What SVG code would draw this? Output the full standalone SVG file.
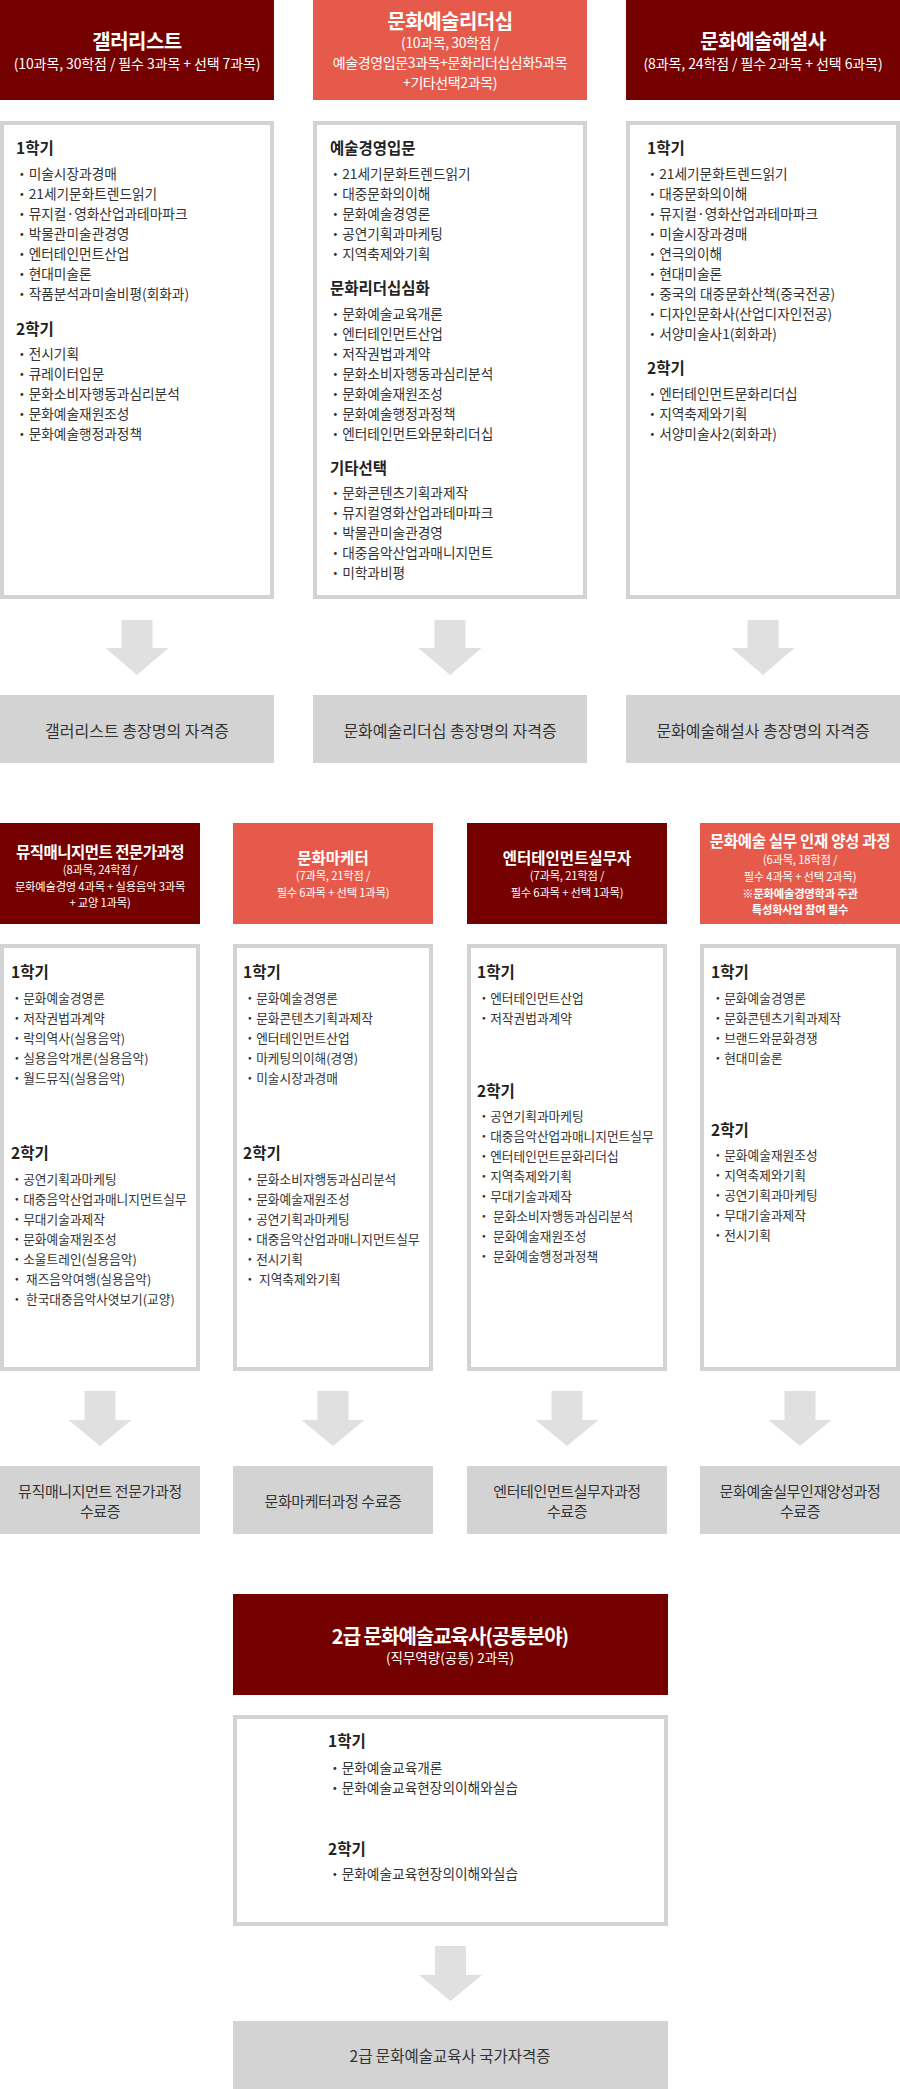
<svg xmlns="http://www.w3.org/2000/svg" width="900" height="2089" viewBox="0 0 900 2089">
<style>
text{font-family:"Noto Sans CJK KR","Noto Sans",sans-serif;dominant-baseline:central}
.dark{fill:#750000}
.coral{fill:#E65A4B}
.box{fill:#fff;stroke:#d3d3d3;stroke-width:4}
.cert{fill:#d3d3d3}
.arrow{fill:#e0e0e0}
.t1{font-size:20px;font-weight:bold;fill:#fff;text-anchor:middle;letter-spacing:-0.5px}
.s1{font-size:14px;fill:#fff;text-anchor:middle;letter-spacing:-0.1px}
.s1n{font-size:14px;fill:#fff;text-anchor:middle;letter-spacing:-0.4px}
.t2{font-size:15.5px;font-weight:bold;fill:#fff;text-anchor:middle;letter-spacing:0}
.s2{font-size:11.3px;fill:#fff;text-anchor:middle;letter-spacing:-0.2px}
.s2b{font-size:11.3px;font-weight:bold;fill:#fff;text-anchor:middle;letter-spacing:-0.2px}
.h{font-size:15.5px;font-weight:bold;fill:#222}
.i{font-size:13.7px;fill:#333}
.i2{font-size:12.7px;fill:#333}
.c1{font-size:16px;fill:#333;text-anchor:middle}
.c2{font-size:15px;fill:#333;text-anchor:middle;letter-spacing:-0.4px}
</style>

<!-- Row 1 -->
<g id="gallerist-header">
<rect class="dark" x="0" y="0" width="274" height="100"/>
<text class="t1" x="137" y="40">갤러리스트</text>
<text class="s1" x="137" y="63">(10과목, 30학점 / 필수 3과목 + 선택 7과목)</text>
</g>
<g id="leadership-header">
<rect class="coral" x="313" y="0" width="274" height="100"/>
<text class="t1" x="450" y="20">문화예술리더십</text>
<text class="s1n" x="450" y="42">(10과목, 30학점 /</text>
<text class="s1n" x="450" y="62">예술경영입문3과목+문화리더십심화5과목</text>
<text class="s1n" x="450" y="82">+기타선택2과목)</text>
</g>
<g id="docent-header">
<rect class="dark" x="626" y="0" width="274" height="100"/>
<text class="t1" x="763" y="40">문화예술해설사</text>
<text class="s1" x="763" y="63">(8과목, 24학점 / 필수 2과목 + 선택 6과목)</text>
</g>

<g id="gallerist-courses">
<rect class="box" x="2" y="123" width="270" height="474"/>
<text class="h" x="16" y="147">1학기</text>
<text class="i" x="15" y="173">・미술시장과경매</text>
<text class="i" x="15" y="193">・21세기문화트렌드읽기</text>
<text class="i" x="15" y="213">・뮤지컬·영화산업과테마파크</text>
<text class="i" x="15" y="233">・박물관미술관경영</text>
<text class="i" x="15" y="253">・엔터테인먼트산업</text>
<text class="i" x="15" y="273">・현대미술론</text>
<text class="i" x="15" y="293">・작품분석과미술비평(회화과)</text>
<text class="h" x="16" y="328">2학기</text>
<text class="i" x="15" y="353">・전시기획</text>
<text class="i" x="15" y="373">・큐레이터입문</text>
<text class="i" x="15" y="393">・문화소비자행동과심리분석</text>
<text class="i" x="15" y="413">・문화예술재원조성</text>
<text class="i" x="15" y="433">・문화예술행정과정책</text>
</g>
<g id="leadership-courses">
<rect class="box" x="315" y="123" width="270" height="474"/>
<text class="h" x="330" y="147">예술경영입문</text>
<text class="i" x="328.5" y="173">・21세기문화트렌드읽기</text>
<text class="i" x="328.5" y="193">・대중문화의이해</text>
<text class="i" x="328.5" y="213">・문화예술경영론</text>
<text class="i" x="328.5" y="233">・공연기획과마케팅</text>
<text class="i" x="328.5" y="253">・지역축제와기획</text>
<text class="h" x="330" y="287">문화리더십심화</text>
<text class="i" x="328.5" y="313">・문화예술교육개론</text>
<text class="i" x="328.5" y="333">・엔터테인먼트산업</text>
<text class="i" x="328.5" y="353">・저작권법과계약</text>
<text class="i" x="328.5" y="373">・문화소비자행동과심리분석</text>
<text class="i" x="328.5" y="393">・문화예술재원조성</text>
<text class="i" x="328.5" y="413">・문화예술행정과정책</text>
<text class="i" x="328.5" y="433">・엔터테인먼트와문화리더십</text>
<text class="h" x="330" y="467">기타선택</text>
<text class="i" x="328.5" y="492">・문화콘텐츠기획과제작</text>
<text class="i" x="328.5" y="512">・뮤지컬영화산업과테마파크</text>
<text class="i" x="328.5" y="532">・박물관미술관경영</text>
<text class="i" x="328.5" y="552">・대중음악산업과매니지먼트</text>
<text class="i" x="328.5" y="572">・미학과비평</text>
</g>
<g id="docent-courses">
<rect class="box" x="628" y="123" width="270" height="474"/>
<text class="h" x="647" y="147">1학기</text>
<text class="i" x="645.5" y="173">・21세기문화트렌드읽기</text>
<text class="i" x="645.5" y="193">・대중문화의이해</text>
<text class="i" x="645.5" y="213">・뮤지컬·영화산업과테마파크</text>
<text class="i" x="645.5" y="233">・미술시장과경매</text>
<text class="i" x="645.5" y="253">・연극의이해</text>
<text class="i" x="645.5" y="273">・현대미술론</text>
<text class="i" x="645.5" y="293">・중국의 대중문화산책(중국전공)</text>
<text class="i" x="645.5" y="313">・디자인문화사(산업디자인전공)</text>
<text class="i" x="645.5" y="333">・서양미술사1(회화과)</text>
<text class="h" x="647" y="367">2학기</text>
<text class="i" x="645.5" y="393">・엔터테인먼트문화리더십</text>
<text class="i" x="645.5" y="413">・지역축제와기획</text>
<text class="i" x="645.5" y="433">・서양미술사2(회화과)</text>
</g>

<g id="gallerist-cert">
<rect class="cert" x="0" y="695" width="274" height="68"/>
<text class="c1" x="137" y="730">갤러리스트 총장명의 자격증</text>
</g>
<g id="leadership-cert">
<rect class="cert" x="313" y="695" width="274" height="68"/>
<text class="c1" x="450" y="730">문화예술리더십 총장명의 자격증</text>
</g>
<g id="docent-cert">
<rect class="cert" x="626" y="695" width="274" height="68"/>
<text class="c1" x="763" y="730">문화예술해설사 총장명의 자격증</text>
</g>

<!-- Row 2 -->
<g id="music-header">
<rect class="dark" x="0" y="823" width="200" height="101"/>
<text class="t2" x="100" y="851" style="letter-spacing:-0.5px">뮤직매니지먼트 전문가과정</text>
<text class="s2" x="100" y="869">(8과목, 24학점 /</text>
<text class="s2" x="100" y="886">문화예술경영 4과목 + 실용음악 3과목</text>
<text class="s2" x="100" y="902">+ 교양 1과목)</text>
</g>
<g id="marketer-header">
<rect class="coral" x="233" y="823" width="200" height="101"/>
<text class="t2" x="333" y="857">문화마케터</text>
<text class="s2" x="333" y="875">(7과목, 21학점 /</text>
<text class="s2" x="333" y="892">필수 6과목 + 선택 1과목)</text>
</g>
<g id="entertainment-header">
<rect class="dark" x="467" y="823" width="200" height="101"/>
<text class="t2" x="567" y="857">엔터테인먼트실무자</text>
<text class="s2" x="567" y="875">(7과목, 21학점 /</text>
<text class="s2" x="567" y="892">필수 6과목 + 선택 1과목)</text>
</g>
<g id="practice-header">
<rect class="coral" x="700" y="823" width="200" height="101"/>
<text class="t2" x="800" y="840" style="letter-spacing:-0.3px">문화예술 실무 인재 양성 과정</text>
<text class="s2" x="800" y="859">(6과목, 18학점 /</text>
<text class="s2" x="800" y="876">필수 4과목 + 선택 2과목)</text>
<text class="s2b" x="800" y="893">※문화예술경영학과 주관</text>
<text class="s2b" x="800" y="909">특성화사업 참여 필수</text>
</g>

<g id="music-courses">
<rect class="box" x="2" y="946" width="196" height="423"/>
<text class="h" x="11" y="971">1학기</text>
<text class="i2" x="10.5" y="997">・문화예술경영론</text>
<text class="i2" x="10.5" y="1017">・저작권법과계약</text>
<text class="i2" x="10.5" y="1037">・락의역사(실용음악)</text>
<text class="i2" x="10.5" y="1057">・실용음악개론(실용음악)</text>
<text class="i2" x="10.5" y="1077">・월드뮤직(실용음악)</text>
<text class="h" x="11" y="1152">2학기</text>
<text class="i2" x="10.5" y="1178">・공연기획과마케팅</text>
<text class="i2" x="10.5" y="1198">・대중음악산업과매니지먼트실무</text>
<text class="i2" x="10.5" y="1218">・무대기술과제작</text>
<text class="i2" x="10.5" y="1238">・문화예술재원조성</text>
<text class="i2" x="10.5" y="1258">・소울트레인(실용음악)</text>
<text class="i2" x="10.5" y="1278" xml:space="preserve">・ 재즈음악여행(실용음악)</text>
<text class="i2" x="10.5" y="1298" xml:space="preserve">・ 한국대중음악사엿보기(교양)</text>
</g>
<g id="marketer-courses">
<rect class="box" x="235" y="946" width="196" height="423"/>
<text class="h" x="243" y="971">1학기</text>
<text class="i2" x="243.5" y="997">・문화예술경영론</text>
<text class="i2" x="243.5" y="1017">・문화콘텐츠기획과제작</text>
<text class="i2" x="243.5" y="1037">・엔터테인먼트산업</text>
<text class="i2" x="243.5" y="1057">・마케팅의이해(경영)</text>
<text class="i2" x="243.5" y="1077">・미술시장과경매</text>
<text class="h" x="243" y="1152">2학기</text>
<text class="i2" x="243.5" y="1178">・문화소비자행동과심리분석</text>
<text class="i2" x="243.5" y="1198">・문화예술재원조성</text>
<text class="i2" x="243.5" y="1218">・공연기획과마케팅</text>
<text class="i2" x="243.5" y="1238">・대중음악산업과매니지먼트실무</text>
<text class="i2" x="243.5" y="1258">・전시기획</text>
<text class="i2" x="243.5" y="1278" xml:space="preserve">・ 지역축제와기획</text>
</g>
<g id="entertainment-courses">
<rect class="box" x="469" y="946" width="196" height="423"/>
<text class="h" x="477" y="971">1학기</text>
<text class="i2" x="477.5" y="997">・엔터테인먼트산업</text>
<text class="i2" x="477.5" y="1017">・저작권법과계약</text>
<text class="h" x="477" y="1090">2학기</text>
<text class="i2" x="477.5" y="1115">・공연기획과마케팅</text>
<text class="i2" x="477.5" y="1135">・대중음악산업과매니지먼트실무</text>
<text class="i2" x="477.5" y="1155">・엔터테인먼트문화리더십</text>
<text class="i2" x="477.5" y="1175">・지역축제와기획</text>
<text class="i2" x="477.5" y="1195">・무대기술과제작</text>
<text class="i2" x="477.5" y="1215" xml:space="preserve">・ 문화소비자행동과심리분석</text>
<text class="i2" x="477.5" y="1235" xml:space="preserve">・ 문화예술재원조성</text>
<text class="i2" x="477.5" y="1255" xml:space="preserve">・ 문화예술행정과정책</text>
</g>
<g id="practice-courses">
<rect class="box" x="702" y="946" width="196" height="423"/>
<text class="h" x="711" y="971">1학기</text>
<text class="i2" x="711.5" y="997">・문화예술경영론</text>
<text class="i2" x="711.5" y="1017">・문화콘텐츠기획과제작</text>
<text class="i2" x="711.5" y="1037">・브랜드와문화경쟁</text>
<text class="i2" x="711.5" y="1057">・현대미술론</text>
<text class="h" x="711" y="1129">2학기</text>
<text class="i2" x="711.5" y="1154">・문화예술재원조성</text>
<text class="i2" x="711.5" y="1174">・지역축제와기획</text>
<text class="i2" x="711.5" y="1194">・공연기획과마케팅</text>
<text class="i2" x="711.5" y="1214">・무대기술과제작</text>
<text class="i2" x="711.5" y="1234">・전시기획</text>
</g>

<g id="music-cert">
<rect class="cert" x="0" y="1466" width="200" height="68"/>
<text class="c2" x="100" y="1490">뮤직매니지먼트 전문가과정</text>
<text class="c2" x="100" y="1510">수료증</text>
</g>
<g id="marketer-cert">
<rect class="cert" x="233" y="1466" width="200" height="68"/>
<text class="c2" x="333" y="1500">문화마케터과정 수료증</text>
</g>
<g id="entertainment-cert">
<rect class="cert" x="467" y="1466" width="200" height="68"/>
<text class="c2" x="567" y="1490">엔터테인먼트실무자과정</text>
<text class="c2" x="567" y="1510">수료증</text>
</g>
<g id="practice-cert">
<rect class="cert" x="700" y="1466" width="200" height="68"/>
<text class="c2" x="800" y="1490">문화예술실무인재양성과정</text>
<text class="c2" x="800" y="1510">수료증</text>
</g>

<!-- Bottom -->
<g id="educator-header">
<rect class="dark" x="233" y="1594" width="435" height="101"/>
<text x="450" y="1635" style="font-size:20px;font-weight:bold;fill:#fff;text-anchor:middle;letter-spacing:-1px">2급 문화예술교육사(공통분야)</text>
<text x="450" y="1657" style="font-size:13.5px;fill:#fff;text-anchor:middle">(직무역량(공통) 2과목)</text>
</g>
<g id="educator-courses">
<rect class="box" x="235" y="1717" width="431" height="207"/>
<text class="h" x="328" y="1740">1학기</text>
<text class="i" x="328" y="1767">・문화예술교육개론</text>
<text class="i" x="328" y="1787">・문화예술교육현장의이해와실습</text>
<text class="h" x="328" y="1848">2학기</text>
<text class="i" x="328" y="1873">・문화예술교육현장의이해와실습</text>
</g>
<g id="educator-cert">
<rect class="cert" x="233" y="2021" width="435" height="68"/>
<text class="c2" x="450" y="2055" style="font-size:15.5px;letter-spacing:0">2급 문화예술교육사 국가자격증</text>
</g>

<!-- Connectors -->
<g id="connectors">
<polygon class="arrow" points="121.5,620 152.5,620 152.5,648 168.5,648 137,675 105.5,648 121.5,648"/>
<polygon class="arrow" points="434.5,620 465.5,620 465.5,648 481.5,648 450,675 418.5,648 434.5,648"/>
<polygon class="arrow" points="747.5,620 778.5,620 778.5,648 794.5,648 763,675 731.5,648 747.5,648"/>
<polygon class="arrow" points="84.5,1391 115.5,1391 115.5,1420 131.5,1420 100,1446 68.5,1420 84.5,1420"/>
<polygon class="arrow" points="317.5,1391 348.5,1391 348.5,1420 364.5,1420 333,1446 301.5,1420 317.5,1420"/>
<polygon class="arrow" points="551.5,1391 582.5,1391 582.5,1420 598.5,1420 567,1446 535.5,1420 551.5,1420"/>
<polygon class="arrow" points="784.5,1391 815.5,1391 815.5,1420 831.5,1420 800,1446 768.5,1420 784.5,1420"/>
<polygon class="arrow" points="435,1946 466,1946 466,1975 482,1975 450.5,2001 419,1975 435,1975"/>
</g>
</svg>
